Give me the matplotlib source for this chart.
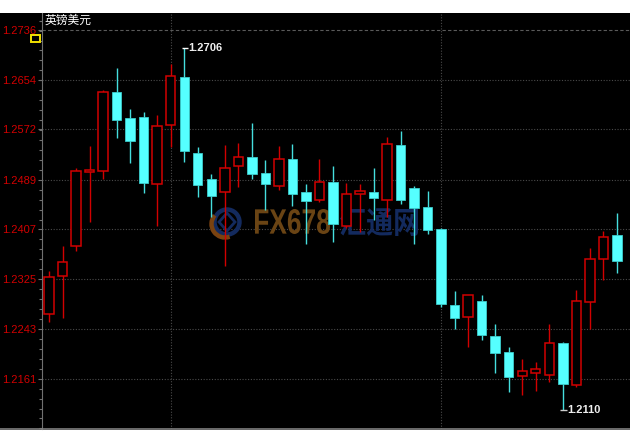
import numpy as np
import matplotlib
matplotlib.use("Agg")
import matplotlib.pyplot as plt
from matplotlib.patches import Rectangle, Circle, Arc, PathPatch, Polygon
from matplotlib.lines import Line2D
from matplotlib.ticker import FixedLocator, AutoMinorLocator
from matplotlib.textpath import TextPath
from matplotlib.font_manager import FontProperties
from matplotlib.transforms import Affine2D

title = "英镑美元"
opens = [1.2267, 1.2330, 1.2379, 1.2502, 1.2504, 1.2634, 1.2591, 1.2593, 1.2482, 1.2579,
         1.2659, 1.2533, 1.2491, 1.2468, 1.2512, 1.2526, 1.2500, 1.2478, 1.2524, 1.2468,
         1.2456, 1.2486, 1.2412, 1.2465, 1.2469, 1.2456, 1.2546, 1.2475, 1.2444, 1.2408,
         1.2282, 1.2262, 1.2289, 1.2232, 1.2205, 1.2165, 1.2170, 1.2167, 1.2220, 1.2151,
         1.2288, 1.2358, 1.2398]
highs = [1.2339, 1.2379, 1.2509, 1.2545, 1.2637, 1.2673, 1.2606, 1.2601, 1.2596, 1.2680,
         1.2706, 1.2543, 1.2499, 1.2546, 1.2549, 1.2582, 1.2522, 1.2545, 1.2548, 1.2482,
         1.2523, 1.2511, 1.2483, 1.2482, 1.2508, 1.2560, 1.2570, 1.2479, 1.2471, 1.2409,
         1.2306, 1.2299, 1.2299, 1.2251, 1.2214, 1.2194, 1.2188, 1.2251, 1.2222, 1.2308,
         1.2377, 1.2405, 1.2435]
lows = [1.2255, 1.2261, 1.2372, 1.2419, 1.2490, 1.2558, 1.2517, 1.2467, 1.2413, 1.2543,
        1.2518, 1.2461, 1.2428, 1.2346, 1.2477, 1.2490, 1.2439, 1.2472, 1.2445, 1.2383,
        1.2453, 1.2387, 1.2410, 1.2403, 1.2423, 1.2428, 1.2449, 1.2383, 1.2399, 1.2280,
        1.2243, 1.2214, 1.2224, 1.2170, 1.2139, 1.2134, 1.2140, 1.2156, 1.2110, 1.2147,
        1.2243, 1.2324, 1.2335]
closes = [1.2328, 1.2354, 1.2504, 1.2505, 1.2634, 1.2588, 1.2553, 1.2483, 1.2578, 1.2660,
          1.2537, 1.2480, 1.2462, 1.2508, 1.2526, 1.2499, 1.2482, 1.2524, 1.2465, 1.2454,
          1.2485, 1.2416, 1.2466, 1.2471, 1.2459, 1.2548, 1.2456, 1.2442, 1.2406, 1.2284,
          1.2261, 1.2299, 1.2233, 1.2204, 1.2163, 1.2173, 1.2177, 1.2220, 1.2152, 1.2289,
          1.2358, 1.2394, 1.2355]
ytick_values = [1.2161, 1.2243, 1.2325, 1.2407, 1.2489, 1.2572, 1.2654, 1.2736]
ytick_labels = ["1.2161", "1.2243", "1.2325", "1.2407", "1.2489", "1.2572", "1.2654", "1.2736"]
vgrid_idx = [9, 29]
max_label = "1.2706"
min_label = "1.2110"

W, H = 630, 446
RED = "#d20000"
CYAN = "#55ffff"

fig = plt.figure(figsize=(W / 100, H / 100), dpi=100)
fig.patch.set_facecolor("white")
fig.add_artist(Rectangle((0, (H - 430) / H), 1, 417 / H, transform=fig.transFigure,
                         facecolor="black", edgecolor="none", zorder=-5))

ax = fig.add_axes([42 / W, (H - 429) / H, (W - 42) / W, 416 / H])
ax.set_facecolor("black")

o = np.array(opens); h = np.array(highs); l = np.array(lows); c = np.array(closes)
x = np.arange(len(o))
up = c >= o

ax.vlines(x[up], l[up], h[up], colors=RED, linewidth=1.0, zorder=3)
ax.vlines(x[~up], l[~up], h[~up], colors="#45dede", linewidth=1.0, zorder=3)
bw = 0.70
ax.bar(x[up], c[up] - o[up], bottom=o[up], width=bw, facecolor="black",
       edgecolor=RED, linewidth=1.1, zorder=4)
ax.bar(x[~up], o[~up] - c[~up], bottom=c[~up], width=bw, facecolor=CYAN,
       edgecolor="#3ccccc", linewidth=0.6, zorder=4)

ax.set_xlim(-0.52, 42.97)
ax.set_ylim(1.20780, 1.27640)

for v in ytick_values:
    if v == ytick_values[-1]:
        ax.axhline(v, color="#5a5a5a", linestyle=(0, (3, 2)), linewidth=0.8, zorder=1)
    else:
        ax.axhline(v, color="#4a4a4a", linestyle=(0, (1, 1.5)), linewidth=0.8, zorder=1)
for xi in vgrid_idx:
    ax.axvline(xi, color="#4a4a4a", linestyle=(0, (1, 1.5)), linewidth=0.8, zorder=1)

ax.yaxis.set_major_locator(FixedLocator(ytick_values))
ax.set_yticklabels(ytick_labels)
ax.yaxis.set_minor_locator(AutoMinorLocator(5))
ax.tick_params(axis="y", which="major", colors="#707070", labelcolor=RED, length=3,
               width=0.8, pad=1, labelsize=8)
ax.tick_params(axis="y", which="minor", colors="#707070", length=2, width=0.8)
for t in ax.get_yticklabels():
    t.set_fontfamily("Liberation Sans")
ax.set_xticks([])
for s in ["top", "right"]:
    ax.spines[s].set_visible(False)
ax.spines["left"].set_color("#707070")
ax.spines["bottom"].set_color("#808080")
ax.spines["bottom"].set_linewidth(1.2)
fig.add_artist(Line2D([0, 42 / W], [(H - 429) / H] * 2, transform=fig.transFigure,
                      color="#808080", linewidth=1.2))

fig.text(45 / W, 1 - 20.5 / H, title, color="white", fontsize=8.5,
         family=["Noto Sans CJK SC", "DejaVu Sans"], va="center", ha="left")
fig.add_artist(Rectangle((31 / W, 1 - 42 / H), 9 / W, 7 / H, transform=fig.transFigure,
                         facecolor="black", edgecolor="#f0e000", linewidth=1.4))

imax = int(np.argmax(h)); imin = int(np.argmin(l))
ax.hlines(h[imax], imax - 0.15, imax + 0.28, color="white", linewidth=1, zorder=5)
ax.text(imax + 0.32, h[imax], max_label, color="#eeeeee", fontsize=8, fontweight="bold",
        family="Liberation Sans", va="center", ha="left", zorder=6)
ax.hlines(l[imin], imin - 0.2, imin + 0.3, color="#cccccc", linewidth=1, zorder=5)
ax.text(imin + 0.34, l[imin], min_label, color="#eeeeee", fontsize=8, fontweight="bold",
        family="Liberation Sans", va="center", ha="left", zorder=6)

# watermark (behind candles)
def stretched_text(s, family, x0, y0, w, hgt, color):
    tp = TextPath((0, 0), s, size=10, prop=FontProperties(family=family, weight="bold"))
    bb = tp.get_extents()
    tr = Affine2D().translate(-bb.x0, -bb.y0).scale(w / bb.width, hgt / bb.height) \
        .translate(x0, H - y0)
    p = PathPatch(tp, transform=tr, facecolor=color, edgecolor="none", zorder=2)
    p.set_clip_on(False)
    ax.add_artist(p)

stretched_text("FX678", "Liberation Sans", 255, 234, 75, 25, "#6a4414")
stretched_text("汇通网", "Noto Sans CJK SC", 340, 236, 78, 28, "#132a5e")
ident = Affine2D()
for art in [
    Circle((227, H - 222), 12.5, transform=ident, facecolor="none",
           edgecolor="#132a5e", linewidth=3.2, zorder=2),
    Arc((225, H - 224), 27, 27, theta1=140, theta2=290, transform=ident,
        edgecolor="#7a4210", linewidth=3.2, zorder=2),
    Polygon([[227, H - 213], [235, H - 222], [227, H - 231], [219, H - 222]],
            closed=True, transform=ident, facecolor="none",
            edgecolor="#132a5e", linewidth=2, zorder=2),
]:
    art.set_clip_on(False)
    ax.add_artist(art)

fig.savefig("out.png", dpi=100, facecolor="white")
